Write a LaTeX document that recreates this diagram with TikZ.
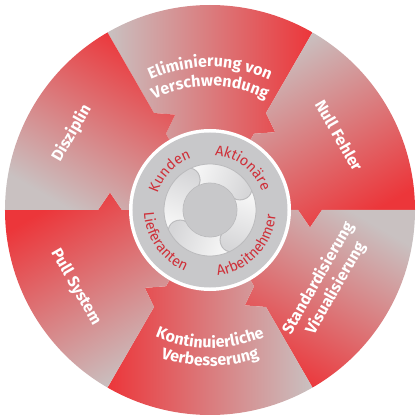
\documentclass[tikz,border=0pt]{standalone}
\usepackage{fontspec}
\setmainfont{Fira Sans}
\usetikzlibrary{decorations.text}
\definecolor{segRed}{HTML}{EC363A}
\definecolor{segGray}{HTML}{C9C1C1}
\definecolor{hubGray}{HTML}{C8C8CA}
\definecolor{hubText}{HTML}{CF3039}
\definecolor{ringLight}{HTML}{F7F7F7}
\definecolor{ringDark}{HTML}{D6D6D8}
\definecolor{ringLine}{HTML}{BBBBBD}
\pgfdeclarehorizontalshading{segfade}{100bp}{color(0bp)=(segGray); color(25bp)=(segGray); color(75bp)=(segRed); color(100bp)=(segRed)}
\pgfdeclarehorizontalshading{ringfade}{100bp}{color(0bp)=(ringLight); color(25bp)=(ringLight); color(75bp)=(ringDark); color(100bp)=(ringDark)}
\newcommand{\segfont}{\color{white}\fontsize{16}{16}\selectfont\bfseries}
\newcommand{\hubfont}{\color{hubText}\fontsize{14.5}{14.5}\selectfont}
\tikzset{
	seglabel/.style={text=white, font=\fontsize{16}{20}\selectfont\bfseries, align=center, inner sep=0pt},
	curvedlabel/.style={decorate, decoration={text along path, text align=center, text={#1}}},
}
\begin{document}
\begin{tikzpicture}[x=1pt,y=1pt]
	\useasboundingbox (-210,-210) rectangle (210,210);
	\foreach \a/\s in {90/0,30/-60,-30/-120,-90/-180,-150/-240,150/60}{
		\shade[shading=segfade, shading angle=\s]
			(\a+30:205) arc[start angle=\a+30, end angle=\a-30, radius=205]
			-- (\a-30:112) -- (\a-39.93:101.52) -- (\a-30:88) -- (\a-30:60)
			arc[start angle=\a-30, end angle=\a+30, radius=60]
			-- (\a+30:88) -- (\a+20.07:101.52) -- (\a+30:112) -- cycle;
	}
	\path[curvedlabel={|\segfont|Eliminierung von}] (150:143) arc[start angle=150, end angle=30, radius=143];
	\path[curvedlabel={|\segfont|Verschwendung}] (150:124) arc[start angle=150, end angle=30, radius=124];
	\path[curvedlabel={|\segfont|Kontinuierliche}] (-150:138) arc[start angle=-150, end angle=-30, radius=138];
	\path[curvedlabel={|\segfont|Verbesserung}] (-150:156) arc[start angle=-150, end angle=-30, radius=156];
	\node[seglabel, rotate=-60] (nullfehler) at (30:149) {Null Fehler};
	\node[seglabel, rotate=60] (disziplin) at (151:158) {Disziplin};
	\node[seglabel, rotate=-60] (pullsystem) at (210:155) {Pull System};
	\node[seglabel, rotate=60] (standard) at (-32:138) {Standardisierung\\Visualisierung};
	\fill[white] (0,0) circle[radius=81];
	\fill[hubGray] (0,0) circle[radius=77.5];
	\foreach \s/\r in {115/-20,25/-110,-65/-200,-155/-290}{
		\shade[shading=ringfade, shading angle=\r, draw=ringLine, line width=0.8]
			(\s:46) arc[start angle=\s, end angle=\s-90, radius=46]
			.. controls (\s-100:42) and (\s-100:31) .. (\s-90:27)
			arc[start angle=\s-90, end angle=\s, radius=27]
			.. controls (\s-10:31) and (\s-10:42) .. (\s:46) -- cycle;
	}
	\fill[hubGray] (0,0) circle[radius=26.5];
	\path[curvedlabel={|\hubfont|Kunden}] (186:55) arc[start angle=186, end angle=86, radius=55];
	\path[curvedlabel={|\hubfont|Aktionäre}] (102:55) arc[start angle=102, end angle=2, radius=55];
	\path[curvedlabel={|\hubfont|Arbeitnehmer}] (-94:66) arc[start angle=-94, end angle=6, radius=66];
	\path[curvedlabel={|\hubfont|Lieferanten}] (165:66) arc[start angle=165, end angle=265, radius=66];
\end{tikzpicture}
\end{document}
